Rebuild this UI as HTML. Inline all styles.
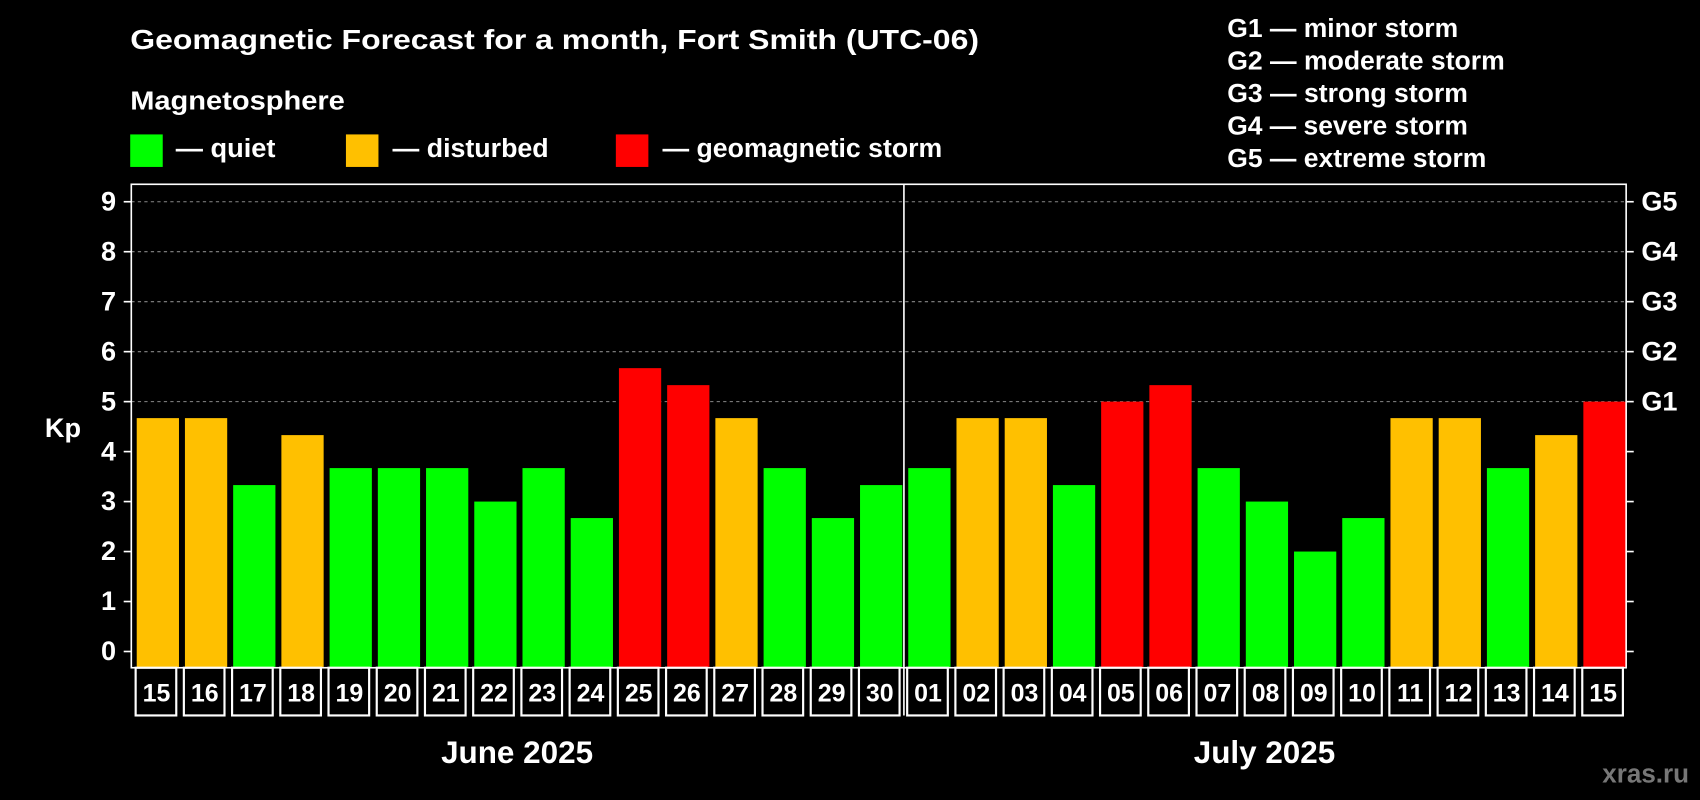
<!DOCTYPE html>
<html><head><meta charset="utf-8"><style>
html,body{margin:0;padding:0;background:#000;}
svg{display:block;font-family:"Liberation Sans",Arial,sans-serif;font-weight:bold;}
</style></head><body>
<svg id="chart" width="1700" height="800" viewBox="0 0 1568 738" xmlns="http://www.w3.org/2000/svg">
<rect width="1568" height="738" fill="#000"/>
<text x="120" y="45" fill="#fff" font-size="26" textLength="783" lengthAdjust="spacingAndGlyphs">Geomagnetic Forecast for a month, Fort Smith (UTC-06)</text>
<text x="120" y="101" fill="#fff" font-size="24" textLength="198" lengthAdjust="spacingAndGlyphs">Magnetosphere</text>
<rect x="120" y="124" width="30" height="30" fill="#00ff00"/>
<text x="162" y="145" fill="#fff" font-size="24" textLength="92" lengthAdjust="spacingAndGlyphs">— quiet</text>
<rect x="319" y="124" width="30" height="30" fill="#ffc000"/>
<text x="362" y="145" fill="#fff" font-size="24" textLength="144" lengthAdjust="spacingAndGlyphs">— disturbed</text>
<rect x="568" y="124" width="30" height="30" fill="#ff0000"/>
<text x="611" y="145" fill="#fff" font-size="24" textLength="258" lengthAdjust="spacingAndGlyphs">— geomagnetic storm</text>
<g font-size="24" fill="#fff">
<text x="1132" y="34" textLength="213" lengthAdjust="spacingAndGlyphs">G1 — minor storm</text>
<text x="1132" y="64" textLength="256" lengthAdjust="spacingAndGlyphs">G2 — moderate storm</text>
<text x="1132" y="94" textLength="222" lengthAdjust="spacingAndGlyphs">G3 — strong storm</text>
<text x="1132" y="124" textLength="222" lengthAdjust="spacingAndGlyphs">G4 — severe storm</text>
<text x="1132" y="154" textLength="239" lengthAdjust="spacingAndGlyphs">G5 — extreme storm</text>
</g>
<text x="58" y="403" fill="#fff" font-size="25" text-anchor="middle">Kp</text>
<text x="1558" y="722" fill="#777" font-size="24" text-anchor="end">xras.ru</text>
<g id="plot"></g>
</svg>
<script>
const days = ["15","16","17","18","19","20","21","22","23","24","25","26","27","28","29","30","01","02","03","04","05","06","07","08","09","10","11","12","13","14","15"];
const kp = [4.67,4.67,3.33,4.33,3.67,3.67,3.67,3,3.67,2.67,5.67,5.33,4.67,3.67,2.67,3.33,3.67,4.67,4.67,3.33,5,5.33,3.67,3,2,2.67,4.67,4.67,3.67,4.33,5];
const yTicks = [0,1,2,3,4,5,6,7,8,9];
const gLabels = ["G1","G2","G3","G4","G5"];
const months = ["June 2025","July 2025"];
const monthSplit = 16;

const NS="http://www.w3.org/2000/svg";
const g=document.getElementById('plot');
const L=121,R=1500,T=170,B=616,Y0=601,UNIT=46.1;
const slot=(R-L)/days.length;
const yS=v=>Y0-v*UNIT;
const xS=i=>L+i*slot;
function mk(t,a,p){const e=document.createElementNS(NS,t);for(const k in a)e.setAttribute(k,a[k]);(p||g).appendChild(e);return e;}
yTicks.forEach(v=>{
  if(v>=5){const l=mk('line',{x1:L,x2:R,y1:yS(v),y2:yS(v),stroke:'#888','stroke-dasharray':'3,3','stroke-width':1});
  
  }
  const tl=mk('line',{x1:L-7,x2:L,y1:yS(v),y2:yS(v),stroke:'#fff','stroke-width':1.5});
  
  
  const tr=mk('line',{x1:R,x2:R+7,y1:yS(v),y2:yS(v),stroke:'#fff','stroke-width':1.5});
  
  
  const t=mk('text',{x:L-14,y:yS(v)+8,fill:'#fff','font-size':25,'text-anchor':'end'});
  t.textContent=v;
  
  
});
gLabels.forEach((s,i)=>{
  const t=mk('text',{x:R+14,y:yS(5+i)+8,fill:'#fff','font-size':25});
  t.textContent=s;
  
  
});
kp.forEach((v,i)=>{
  const c=v>=5?'#ff0000':(v>=4?'#ffc000':'#00ff00');
  const r=mk('rect',{x:xS(i)+5,y:yS(v),width:slot-5.5,height:B-yS(v),fill:c});
  
  
  const cell=mk('rect',{x:xS(i)+4,y:B,width:slot-7,height:44,fill:'none',stroke:'#fff','stroke-width':2});
  
  
  const t=mk('text',{x:xS(i)+slot/2+1,y:B+31,fill:'#fff','font-size':23,'text-anchor':'middle'});
  t.textContent=days[i];
  
  
});
const f=mk('rect',{x:L,y:T,width:R-L,height:B-T,fill:'none',stroke:'#fff','stroke-width':1.5});


const sx=xS(monthSplit)+1;
const sep=mk('line',{x1:sx,x2:sx,y1:T,y2:660,stroke:'#fff','stroke-width':1.5});


[[0,monthSplit],[monthSplit,days.length]].forEach((r,k)=>{
  const t=mk('text',{x:(xS(r[0])+xS(r[1]))/2,y:704,fill:'#fff','font-size':29,'text-anchor':'middle'});
  t.textContent=months[k];
  
  
});
</script>
</body></html>
